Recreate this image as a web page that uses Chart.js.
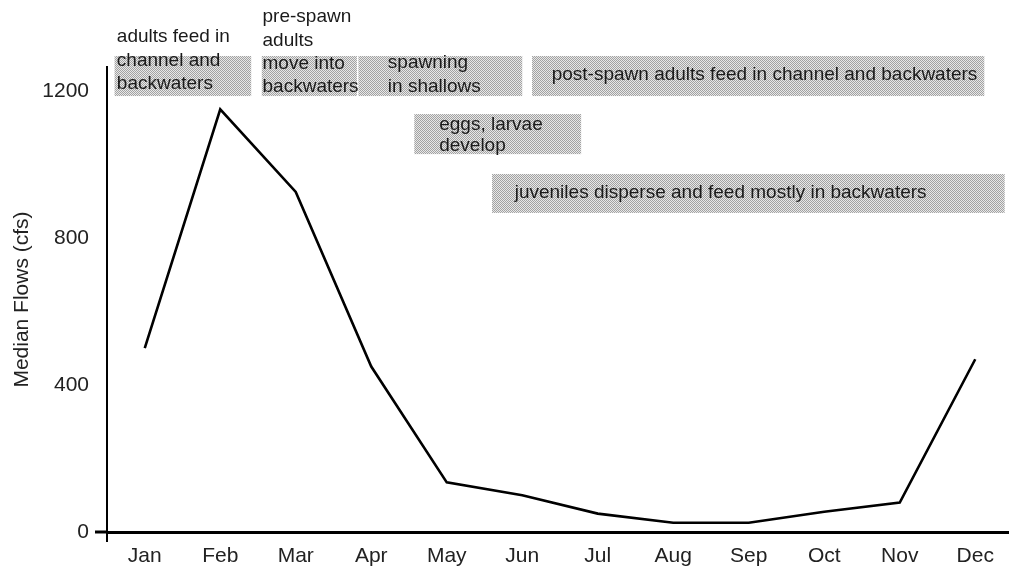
<!DOCTYPE html>
<html>
<head>
<meta charset="utf-8">
<script src="https://cdn.jsdelivr.net/npm/chart.js@4"></script>
<style>
	body { margin: 0; overflow: hidden; background: #fff; }
	#wrap { width: 1020px; height: 567px; }
</style>
</head>
<body>
<div id="wrap"><canvas id="myChart" width="1020" height="567"></canvas></div>
<script>
//Chart data

const months = ['Jan', 'Feb', 'Mar', 'Apr', 'May', 'Jun', 'Jul', 'Aug', 'Sep', 'Oct', 'Nov', 'Dec'];
const flows = [500, 1150, 925, 450, 135, 100, 50, 25, 25, 55, 80, 470];
const yTicks = [0, 400, 800, 1200];

//Life stage notes (text only)

const noteText = [
	['adults feed in', 'channel and', 'backwaters'],
	['pre-spawn', 'adults', 'move into', 'backwaters'],
	['spawning', 'in shallows'],
	['post-spawn adults feed in channel and backwaters'],
	['eggs, larvae', 'develop'],
	['juveniles disperse and feed mostly in backwaters']
];

//Where each note sits, in month index and flow units

const notePlace = [
	{ x0: -0.40, x1: 1.41, top: 1295, bottom: 1186, tx: -0.37, lines: [1347, 1281, 1219] },
	{ x0: 1.55, x1: 2.81, top: 1295, bottom: 1186, tx: 1.56, lines: [1401, 1336, 1273, 1211] },
	{ x0: 2.83, x1: 5.00, top: 1295, bottom: 1186, tx: 3.22, lines: [1276, 1211] },
	{ x0: 5.13, x1: 11.12, top: 1295, bottom: 1186, tx: 5.39, lines: [1243] },
	{ x0: 3.57, x1: 5.78, top: 1137, bottom: 1028, tx: 3.90, lines: [1107, 1050] },
	{ x0: 4.60, x1: 11.39, top: 974, bottom: 868, tx: 4.90, lines: [922] }
];

const fontFamily = '"Liberation Sans", Arial, sans-serif';

//Dithered grey fill like the old chart

function makePattern(ctx) {
	let c = document.createElement('canvas');
	c.width = 2;
	c.height = 2;
	let p = c.getContext('2d');
	p.fillStyle = '#e8e8e8';
	p.fillRect(0, 0, 2, 2);
	p.fillStyle = '#a2a2a2';
	p.fillRect(0, 0, 1, 1);
	p.fillRect(1, 1, 1, 1);
	return ctx.createPattern(c, 'repeat');
}

const notesPlugin = {
	id: 'notes',
	afterDraw(chart) {
		let ctx = chart.ctx;
		let x = chart.scales.x;
		let y = chart.scales.y;
		let pattern = makePattern(ctx);
		ctx.save();
		notePlace.forEach((n) => {
			let left = x.getPixelForValue(n.x0);
			let right = x.getPixelForValue(n.x1);
			let top = y.getPixelForValue(n.top);
			let bottom = y.getPixelForValue(n.bottom);
			ctx.fillStyle = pattern;
			ctx.fillRect(left, top, right - left, bottom - top);
		});
		ctx.fillStyle = '#1a1a1a';
		ctx.font = '19px ' + fontFamily;
		ctx.textBaseline = 'middle';
		ctx.textAlign = 'left';
		notePlace.forEach((n, i) => {
			let tx = x.getPixelForValue(n.tx);
			noteText[i].forEach((line, j) => {
				ctx.fillText(line, tx, y.getPixelForValue(n.lines[j]));
			});
		});
		// the x axis runs a little past the y axis on the left
		ctx.strokeStyle = '#000';
		ctx.lineWidth = 3;
		ctx.beginPath();
		ctx.moveTo(y.left + y.width - 12, y.getPixelForValue(0));
		ctx.lineTo(chart.chartArea.left, y.getPixelForValue(0));
		ctx.stroke();
		ctx.restore();
	}
};

//Build chart

const ctx = document.getElementById('myChart').getContext('2d');
const myChart = new Chart(ctx, {
	type: 'line',
	data: {
		labels: months,
		datasets: [{
			data: flows,
			borderColor: '#000',
			borderWidth: 2.6,
			pointRadius: 0,
			tension: 0,
			fill: false
		}]
	},
	options: {
		responsive: false,
		animation: false,
		layout: {
			padding: { top: 67, right: 7, left: 0, bottom: 0 }
		},
		plugins: {
			legend: { display: false },
			tooltip: { enabled: false }
		},
		scales: {
			x: {
				offset: true,
				grid: {
					offset: true,
					drawOnChartArea: false,
					tickLength: 10,
					lineWidth: 2,
					color: (c) => c.index === 0 ? '#000' : 'rgba(0,0,0,0)'
				},
				border: { display: true, color: '#000', width: 3 },
				ticks: {
					color: '#222',
					padding: 2,
					font: { family: fontFamily, size: 21 }
				},
				afterFit: (s) => { s.height = 35; }
			},
			y: {
				min: 0,
				max: 1265,
				grid: {
					drawOnChartArea: false,
					tickLength: 12,
					color: 'rgba(0,0,0,0)'
				},
				border: { display: true, color: '#000', width: 2 },
				ticks: {
					color: '#222',
					padding: 6,
					includeBounds: false,
					font: { family: fontFamily, size: 21 },
					callback: (v) => String(v)
				},
				afterBuildTicks: (s) => {
					s.ticks = yTicks.map((v) => ({ value: v }));
				},
				title: {
					display: true,
					text: 'Median Flows (cfs)',
					color: '#222',
					padding: { top: 10, bottom: 0 },
					font: { family: fontFamily, size: 21 }
				},
				afterFit: (s) => { s.width = 107; }
			}
		}
	},
	plugins: [notesPlugin]
});
</script>
</body>
</html>
